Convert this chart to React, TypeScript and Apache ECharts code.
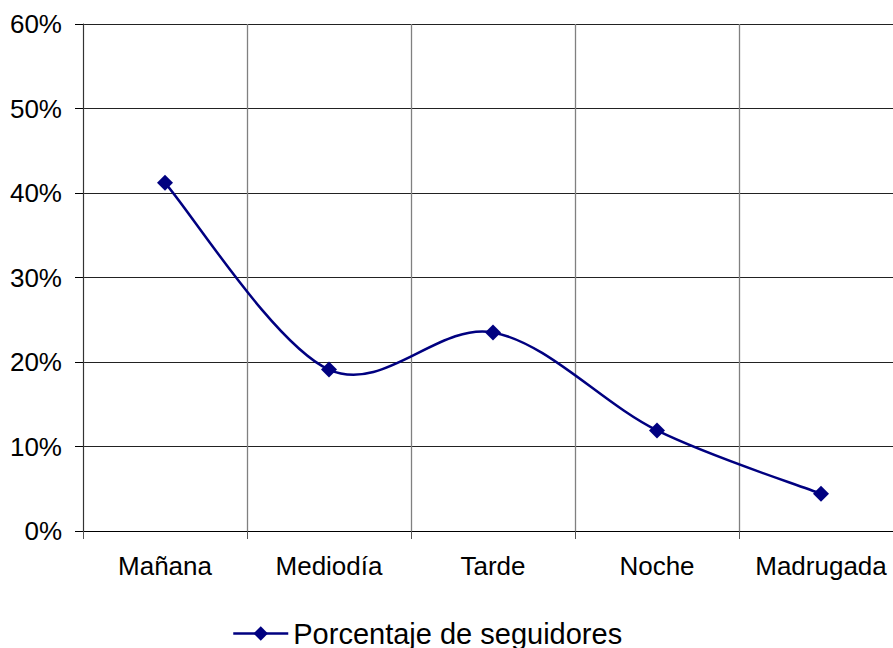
import React, { useEffect, useRef } from "react";
import * as echarts from "echarts";

const categories = ["Mañana", "Mediodía", "Tarde", "Noche", "Madrugada"];
const seguidores = [41.2, 19.1, 23.5, 11.9, 4.4];
const seriesName = "Porcentaje de seguidores";

export default function App() {
  const ref = useRef<HTMLDivElement>(null);
  useEffect(() => {
    const chart = echarts.init(ref.current!, null, { renderer: "svg" });
    const font = "'Liberation Sans', Arial, sans-serif";
    const renderCurve = (params: any, api: any) => {
      if (params.dataIndex !== 0) return null;
      const pts = seguidores.map((v, i) => api.coord([i, v]));
      const n = pts.length;
      let d = `M${pts[0][0]},${pts[0][1]}`;
      for (let i = 0; i < n - 1; i++) {
        const p0 = pts[Math.max(0, i - 1)];
        const p1 = pts[i];
        const p2 = pts[i + 1];
        const p3 = pts[Math.min(n - 1, i + 2)];
        const c1x = p1[0] + (p2[0] - p0[0]) / 6;
        const c1y = p1[1] + (p2[1] - p0[1]) / 6;
        const c2x = p2[0] - (p3[0] - p1[0]) / 6;
        const c2y = p2[1] - (p3[1] - p1[1]) / 6;
        d += ` C${c1x},${c1y} ${c2x},${c2y} ${p2[0]},${p2[1]}`;
      }
      return {
        type: "path",
        shape: { pathData: d },
        style: { fill: "none", stroke: "#000080", lineWidth: 2.5 },
      };
    };
    chart.setOption({
      animation: false,
      backgroundColor: "#ffffff",
      textStyle: { fontFamily: font },
      grid: { left: 83, top: 24, right: 7, bottom: 117, containLabel: false },
      legend: {
        left: 227,
        top: 614,
        itemWidth: 55,
        itemHeight: 18,
        itemGap: 8,
        data: [seriesName],
        lineStyle: { color: "#000080", width: 2.5, opacity: 1 },
        textStyle: { fontSize: 29, lineHeight: 29, color: "#000", fontFamily: font },
      },
      xAxis: {
        type: "category",
        data: categories,
        boundaryGap: true,
        axisLine: { show: true, lineStyle: { color: "#000", width: 1 } },
        axisTick: { show: true, length: 8, lineStyle: { color: "#555" } },
        axisLabel: { fontSize: 26, color: "#000", margin: 22, fontFamily: font, interval: 0 },
        splitLine: { show: true, lineStyle: { color: "#808080", width: 1.3 } },
      },
      yAxis: {
        type: "value",
        min: 0,
        max: 60,
        interval: 10,
        axisLine: { show: true, lineStyle: { color: "#333", width: 1 } },
        axisTick: { show: true, length: 8, lineStyle: { color: "#000" } },
        axisLabel: { fontSize: 26, color: "#000", margin: 21, fontFamily: font, formatter: "{value}%" },
        splitLine: { show: true, lineStyle: { color: "#222", width: 1 } },
      },
      series: [
        {
          type: "custom",
          name: "curve",
          data: [[0]],
          renderItem: renderCurve,
          z: 2,
          silent: true,
        },
        {
          name: seriesName,
          type: "line",
          data: seguidores,
          symbol: "diamond",
          symbolSize: 16,
          lineStyle: { color: "#000080", width: 0, opacity: 0 },
          itemStyle: { color: "#000080" },
          z: 3,
        },
      ],
    });
    return () => chart.dispose();
  }, []);
  return (
    <div style={{ position: "fixed", left: 0, top: 0, width: 893, height: 648, overflow: "hidden" }}>
      <div ref={ref} style={{ width: 910, height: 648 }} />
    </div>
  );
}
